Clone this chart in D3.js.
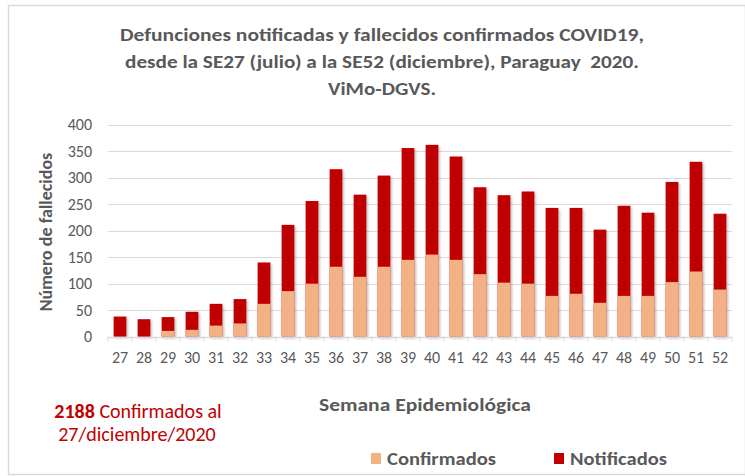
<!DOCTYPE html>
<html>
<head>
<meta charset="utf-8">
<script src="https://cdn.jsdelivr.net/npm/d3@7"></script>
<style>
  body { margin: 0; background: #fff; }
  text { font-family: Carlito, Calibri, Lato, "Open Sans", sans-serif; }
</style>
</head>
<body>
<div id="chart"></div>
<script>
// semanas epidemiologicas 27..52
var semanas = ['27','28','29','30','31','32','33','34','35','36','37','38','39','40','41','42','43','44','45','46','47','48','49','50','51','52'];
// total defunciones notificadas (altura total de la barra)
var notificados = [38, 33, 37, 47, 62, 71, 140, 211, 256, 316, 268, 304, 356, 362, 340, 282, 267, 274, 243, 243, 202, 247, 234, 292, 330, 232];
// fallecidos confirmados (parte inferior)
var confirmados = [0, 0, 11, 13, 21, 25, 62, 86, 100, 132, 113, 132, 145, 155, 145, 118, 102, 100, 77, 81, 64, 77, 77, 103, 123, 89];
var yTicks = [0, 50, 100, 150, 200, 250, 300, 350, 400];

var W = 745, H = 476;
var gris = '#595959', rojo = '#c00000', naranja = '#f4b183';

var svg = d3.select('#chart').append('svg')
    .attr('width', W)
    .attr('height', H);

// estira un texto hasta el ancho que tiene en la imagen original
function ancho(sel, w) {
    sel.attr('textLength', w).attr('lengthAdjust', 'spacingAndGlyphs');
}

// sombra suave como en Excel
var f = svg.append('defs').append('filter').attr('id', 'sombra')
    .attr('x', '-30%').attr('y', '-10%').attr('width', '160%').attr('height', '130%');
f.append('feDropShadow').attr('dx', 1.5).attr('dy', 1.5).attr('stdDeviation', 1.2)
    .attr('flood-color', '#000').attr('flood-opacity', 0.25);

// marco
svg.append('rect')
    .attr('x', 8.5).attr('y', 5.5)
    .attr('width', W - 8).attr('height', 469)
    .style('fill', 'none').style('stroke', '#d9d9d9').style('stroke-width', 1.5);

var x = d3.scaleBand().domain(semanas).range([108, 732]).paddingInner(0.47).paddingOuter(0.235);
var y = d3.scaleLinear().domain([0, 400]).range([336.7, 124.7]);

// lineas de cuadricula
svg.append('g').selectAll('line').data(yTicks.slice(1)).enter().append('line')
    .attr('x1', 108).attr('x2', 732)
    .attr('y1', function(d) { return Math.round(y(d)) + 0.5; })
    .attr('y2', function(d) { return Math.round(y(d)) + 0.5; })
    .style('stroke', '#d9d9d9').style('stroke-width', 1);

// eje y (solo etiquetas)
var yAxis = svg.append('g').attr('transform', 'translate(108,0)')
    .call(d3.axisLeft(y).tickValues(yTicks).tickSize(0).tickPadding(16));
yAxis.select('.domain').remove();
yAxis.selectAll('text').style('font-size', '16px').style('fill', gris);

// barras
var barras = svg.append('g').attr('filter', 'url(#sombra)');
barras.selectAll('rect.not').data(semanas).enter().append('rect')
    .attr('class', 'not')
    .attr('x', function(d) { return x(d); })
    .attr('width', x.bandwidth())
    .attr('y', function(d, i) { return y(notificados[i]); })
    .attr('height', function(d, i) { return y(0) - y(notificados[i]); })
    .style('fill', rojo);
barras.selectAll('rect.conf').data(semanas).enter().append('rect')
    .attr('class', 'conf')
    .attr('x', function(d) { return x(d); })
    .attr('width', x.bandwidth())
    .attr('y', function(d, i) { return y(confirmados[i]); })
    .attr('height', function(d, i) { return y(0) - y(confirmados[i]); })
    .style('fill', naranja);

// eje x
var xAxis = svg.append('g').attr('transform', 'translate(0,' + (Math.round(y(0)) + 0.5) + ')')
    .call(d3.axisBottom(x).tickSize(0).tickPadding(14));
xAxis.select('.domain').attr('d', 'M108,0H732').style('stroke', '#d9d9d9').style('stroke-width', 1.5);
xAxis.selectAll('text').style('font-size', '16px').style('fill', gris);
var step = x.step();
svg.append('g').selectAll('line').data(d3.range(semanas.length + 1)).enter().append('line')
    .attr('x1', function(i) { return 108 + i * step; })
    .attr('x2', function(i) { return 108 + i * step; })
    .attr('y1', y(0)).attr('y2', y(0) + 5)
    .style('stroke', '#d9d9d9').style('stroke-width', 1);

// titulo
var titulo = ['Defunciones notificadas y fallecidos confirmados COVID19,',
    'desde la SE27 (julio) a la SE52 (diciembre), Paraguay  2020.',
    'ViMo-DGVS.'];
var anchosTitulo = [524, 514, 108];
svg.append('g').selectAll('text').data(titulo).enter().append('text')
    .attr('x', 382).attr('y', function(d, i) { return 41 + i * 27; })
    .attr('text-anchor', 'middle')
    .style('font-size', '19px').style('font-weight', 'bold').style('fill', gris)
    .style('white-space', 'pre')
    .attr('textLength', function(d, i) { return anchosTitulo[i]; })
    .attr('lengthAdjust', 'spacingAndGlyphs')
    .text(function(d) { return d; });

// titulos de ejes
svg.append('text')
    .attr('transform', 'translate(52,232) rotate(-90)')
    .attr('text-anchor', 'middle')
    .style('font-size', '18px').style('font-weight', 'bold').style('fill', gris)
    .text('Número de fallecidos');
svg.append('text')
    .attr('x', 425).attr('y', 411)
    .attr('text-anchor', 'middle')
    .style('font-size', '18px').style('font-weight', 'bold').style('fill', gris)
    .text('Semana Epidemiológica')
    .call(ancho, 212);

// nota
var nota = svg.append('text').attr('x', 138).attr('y', 418).attr('text-anchor', 'middle')
    .style('font-size', '20px').style('fill', rojo);
nota.append('tspan').style('font-weight', 'bold').text('2188');
nota.append('tspan').text(' Confirmados al');
svg.append('text').attr('x', 137).attr('y', 441).attr('text-anchor', 'middle')
    .style('font-size', '20px').style('fill', rojo)
    .text('27/diciembre/2020');

// leyenda
var leyenda = [{n: 'Confirmados', c: naranja, x: 371, w: 109}, {n: 'Notificados', c: rojo, x: 554, w: 97}];
var lg = svg.append('g').selectAll('g').data(leyenda).enter().append('g')
    .attr('transform', function(d) { return 'translate(' + d.x + ',458)'; });
lg.append('rect').attr('x', 0).attr('y', -5).attr('width', 10).attr('height', 11)
    .style('fill', function(d) { return d.c; });
lg.append('text').attr('x', 16).attr('y', 7)
    .style('font-size', '18px').style('font-weight', 'bold').style('fill', gris)
    .attr('textLength', function(d) { return d.w; })
    .attr('lengthAdjust', 'spacingAndGlyphs')
    .text(function(d) { return d.n; });
</script>
</body>
</html>
